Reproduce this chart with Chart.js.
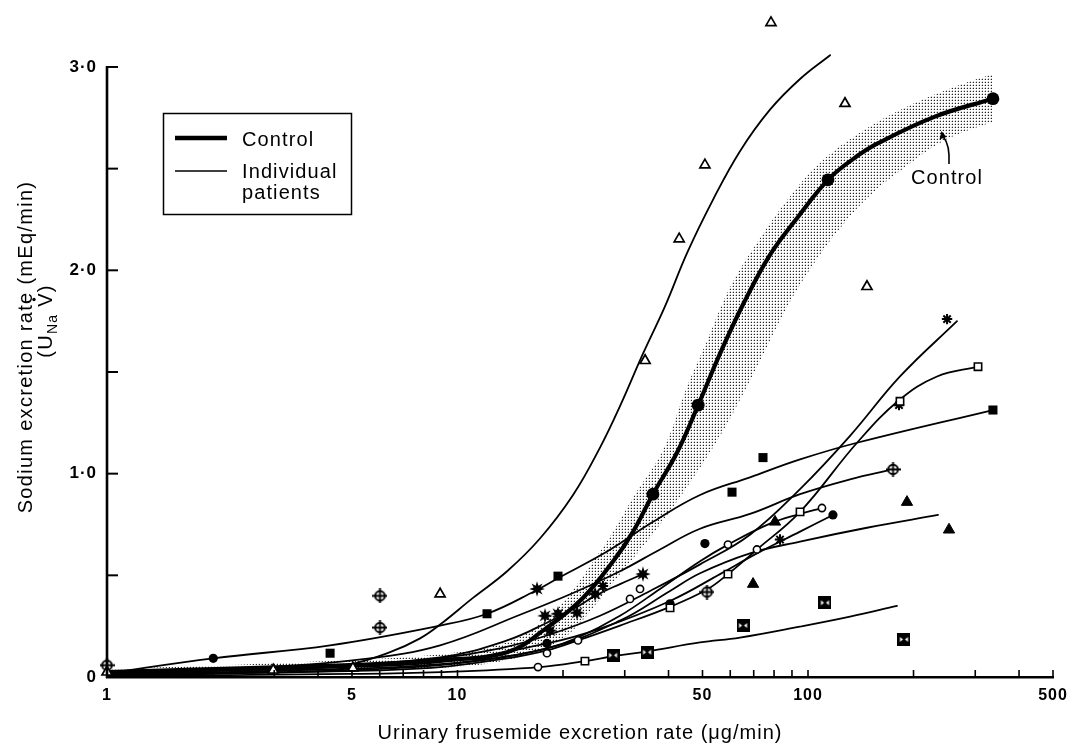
<!DOCTYPE html>
<html><head><meta charset="utf-8">
<script src="https://cdn.jsdelivr.net/npm/chart.js@4.4.0/dist/chart.umd.min.js"></script>
<style>html,body{margin:0;padding:0;background:#fff}#wrap{width:1085px;height:745px;position:relative}</style>
</head><body><div id="wrap"><canvas id="c" width="1085" height="745"></canvas></div>
<script>
// ---------- data (x: urinary frusemide µg/min, y: UNaV mEq/min) ----------
const xTickLabels = [1, 5, 10, 50, 100, 500];
const xMinorTicks = [1,2,3,4,5,6,7,8,9,10,20,30,40,50,60,70,80,90,100,200,300,400,500];
const yTicks = [0, 0.5, 1, 1.5, 2, 2.5, 3];
const xTitle = 'Urinary frusemide excretion rate (μg/min)';
const yTitleMain = 'Sodium excretion rate (mEq/min)';
const legendLabels = ['Control', 'Individual', 'patients'];
const annotationLabel = 'Control';

const controlCurve = [[1,0.024],[2.56,0.044],[4.94,0.058],[8.92,0.083],[13.85,0.122],[18.0,0.243],[22.8,0.389],[27.8,0.569],[31.7,0.715],[36.1,0.899],[42.3,1.104],[48.6,1.337],[56.1,1.590],[65.3,1.833],[77.9,2.076],[93.0,2.256],[114,2.445],[134.4,2.547],[158.4,2.625],[230.3,2.756],[337,2.844]];
const controlPoints = [[36.1,0.899],[48.6,1.337],[114,2.445],[337,2.844]];
const controlBandUpper = [[1,0.039],[2.56,0.063],[4.94,0.083],[8.92,0.112],[13.2,0.160],[16.1,0.228],[19.6,0.350],[24.4,0.569],[27.8,0.715],[32.1,0.899],[38.6,1.118],[45.2,1.429],[51.5,1.653],[59.9,1.915],[73.0,2.159],[90.6,2.382],[108.2,2.528],[131.8,2.645],[179.4,2.781],[260.9,2.902],[337,2.966]];
const controlBandLower = [[1,0.010],[2.56,0.019],[4.94,0.034],[8.92,0.044],[13.85,0.083],[19.2,0.170],[22.4,0.267],[25.0,0.365],[29.1,0.506],[34.7,0.666],[41.2,0.836],[46.1,0.958],[52.5,1.104],[61.1,1.298],[73.0,1.556],[87.1,1.818],[103.4,2.027],[123.4,2.207],[150.3,2.368],[183,2.489],[242.8,2.635],[337,2.732]];

const triOpenLine = [[1,0.005],[2.56,0.024],[3.55,0.039],[4.94,0.063],[6.42,0.122],[7.82,0.190],[8.92,0.258],[11.07,0.389],[13.85,0.520],[17.19,0.681],[21.36,0.895],[25.5,1.128],[29.08,1.332],[33.82,1.590],[39.08,1.823],[45.2,2.086],[53.6,2.348],[63.97,2.586],[77.9,2.790],[94.9,2.941],[115.6,3.058]];
const triOpenPts = [[1,0.024],[2.98,0.034],[5.03,0.044],[8.92,0.408],[34.3,1.556],[42.9,2.154],[50.8,2.518],[78.4,3.218],[127.5,2.820],[147.3,1.920]];

const sqFilledLine = [[1,0.019],[2.01,0.092],[4.33,0.156],[8.92,0.253],[12.14,0.311],[16.64,0.423],[19.35,0.486],[26.71,0.617],[36.13,0.763],[49.2,0.895],[68.3,0.982],[94.9,1.070],[138,1.152],[337,1.313]];
const sqFilledPts = [[4.33,0.117],[12.14,0.311],[19.35,0.496],[60.7,0.909],[74.4,1.079],[337,1.313]];

const crossLine = [[1,0.024],[2.56,0.044],[5.38,0.088],[8.92,0.156],[15.08,0.306],[21.36,0.413],[29.08,0.520],[37.82,0.627],[49.2,0.729],[68.3,0.802],[94.9,0.899],[131.8,0.972],[174.8,1.021]];
const crossPts = [[1,0.058],[6.01,0.399],[6.01,0.243],[51.5,0.418],[174.8,1.021]];

const starLine = [[1,0.015],[2.56,0.034],[4.94,0.053],[8.92,0.092],[13.22,0.141],[18.0,0.204],[25.5,0.301],[35.42,0.423],[49.2,0.554],[68.3,0.700],[94.9,0.924],[131.8,1.186],[183,1.478],[266.1,1.750]];
const starPts = [[249.3,1.760],[181.8,1.337],[83.2,0.676],[26.0,0.447]];

const sqOpenLine = [[1,0.010],[4.94,0.029],[8.92,0.049],[13.85,0.092],[18.0,0.131],[22.07,0.180],[29.08,0.253],[40.4,0.345],[51.5,0.430],[59.1,0.506],[71.5,0.627],[94.9,0.812],[138,1.152],[181.8,1.361],[233.4,1.478],[305.5,1.526]];
const sqOpenPts = [[23.1,0.078],[40.4,0.340],[59.1,0.506],[94.9,0.812],[183,1.356],[305.5,1.526]];

const circOpenLine = [[1,0.005],[4.94,0.034],[8.92,0.058],[13.85,0.102],[18.0,0.141],[22.07,0.194],[29.08,0.301],[37.82,0.433],[49.2,0.569],[59.1,0.651],[77.9,0.754],[94.9,0.802],[109.6,0.831]];
const circOpenPts = [[16.97,0.049],[18.0,0.117],[22.07,0.180],[31.06,0.384],[33.17,0.433],[59.1,0.651],[71.5,0.627],[109.6,0.831]];

const circFilledLine = [[1,0.019],[3.55,0.044],[8.92,0.073],[18.0,0.165],[25.5,0.238],[40.4,0.374],[56.1,0.506],[71.5,0.608],[94.9,0.715],[117.8,0.797]];
const circFilledPts = [[2.01,0.092],[18.0,0.165],[40.4,0.360],[50.8,0.656],[117.8,0.797]];

const triFilledLine = [[1,0.010],[3.55,0.034],[8.92,0.063],[18.0,0.141],[29.08,0.277],[40.4,0.423],[49.2,0.510],[68.3,0.608],[94.9,0.666],[147.3,0.734],[234.9,0.797]];
const triFilledPts = [[69.7,0.457],[80.5,0.763],[191.6,0.860],[252.5,0.724]];

const boxLine = [[1,0.005],[4.94,0.015],[8.92,0.024],[17.19,0.049],[23.11,0.078],[27.78,0.102],[34.73,0.126],[49.2,0.170],[63.97,0.194],[94.9,0.248],[131.8,0.297],[179.4,0.350]];
const boxPts = [[27.78,0.107],[34.73,0.122],[65.25,0.253],[111.8,0.365],[187.8,0.185]];

const burstLine = [[1,0.015],[3.55,0.049],[8.92,0.097],[13.85,0.180],[18.0,0.267],[21.93,0.345],[24.69,0.399],[29.08,0.457],[33.82,0.506]];
const burstPts = [[16.86,0.433],[17.77,0.301],[18.36,0.228],[19.35,0.311],[21.93,0.316],[24.69,0.408],[33.82,0.506]];

// ---------- styling helpers ----------
const FONT = '"Liberation Sans", Arial, Helvetica, sans-serif';
const canvasEl = document.getElementById('c');
const mainCtx = canvasEl.getContext('2d');
function mk(w, h, draw) { const c = document.createElement('canvas'); c.width = w; c.height = h; draw(c.getContext('2d')); return c; }
const dotTile = mk(3, 3, g => { g.fillStyle = 'rgba(0,0,0,0.85)'; g.fillRect(1,1,1,1); g.fillStyle = 'rgba(0,0,0,0.22)'; g.fillRect(0,1,1,1); g.fillRect(1,0,1,1); });
const stipple = mainCtx.createPattern(dotTile, 'repeat');
const crossCircle = mk(15, 15, g => { g.fillStyle = '#fff'; g.beginPath(); g.arc(7.5,7.5,4.8,0,2*Math.PI); g.fill(); g.strokeStyle = '#000'; g.lineWidth = 1.9; g.stroke(); g.beginPath(); g.moveTo(0,7.5); g.lineTo(15,7.5); g.moveTo(7.5,0); g.lineTo(7.5,15); g.stroke(); });
const boxMark = mk(13, 13, g => { g.fillStyle = '#000'; g.fillRect(0,0,13,13); g.fillStyle = '#fff'; g.beginPath(); g.moveTo(2.5,4); g.lineTo(5.5,6.5); g.lineTo(2.5,9); g.closePath(); g.moveTo(10.5,4); g.lineTo(7.5,6.5); g.lineTo(10.5,9); g.closePath(); g.fill(); });
const burstMark = mk(16, 16, g => { g.fillStyle = '#000'; g.beginPath(); for (let i = 0; i < 16; i++) { const a = i*Math.PI/8 - Math.PI/2; const r = i % 2 ? 3.6 : 7.8; g.lineTo(8 + r*Math.cos(a), 8 + r*Math.sin(a)); } g.closePath(); g.fill(); });

const P = a => a.map(([x, y]) => ({x, y}));
function lineDs(data, w) {
  return {data: P(data), showLine: true, borderColor: '#000', borderWidth: w, pointRadius: 0, pointHoverRadius: 0,
    tension: 0.4, fill: false, clip: false, borderCapStyle: 'round', borderJoinStyle: 'round'};
}
function ptDs(data, style, r, bg, bw) {
  return {data: P(data), showLine: false, pointStyle: style, pointRadius: r, pointHoverRadius: r,
    pointBackgroundColor: bg, pointBorderColor: '#000', pointBorderWidth: bw, clip: false};
}

const datasets = [
  // markers (drawn on top)
  ptDs(controlPoints, 'circle', 6.4, '#000', 0),
  ptDs(triOpenPts, 'triangle', 5.8, '#fff', 1.7),
  ptDs(triFilledPts, 'triangle', 6.5, '#000', 1),
  ptDs(sqFilledPts, 'rect', 6.4, '#000', 0),
  ptDs(sqOpenPts, 'rect', 5.2, '#fff', 1.6),
  ptDs(circOpenPts, 'circle', 3.6, '#fff', 1.6),
  ptDs(circFilledPts, 'circle', 4.6, '#000', 0),
  ptDs(starPts, 'star', 5.2, '#000', 2),
  ptDs(crossPts, crossCircle, 6, '#000', 0),
  ptDs(boxPts, boxMark, 6, '#000', 0),
  ptDs(burstPts, burstMark, 6, '#000', 0),
  // curves
  lineDs(controlCurve, 4.2),
  lineDs(triOpenLine, 1.8),
  lineDs(sqFilledLine, 1.8),
  lineDs(crossLine, 1.8),
  lineDs(starLine, 1.8),
  lineDs(sqOpenLine, 1.8),
  lineDs(circOpenLine, 1.8),
  lineDs(circFilledLine, 1.8),
  lineDs(triFilledLine, 1.8),
  lineDs(boxLine, 1.8),
  lineDs(burstLine, 1.8),
];
// control band (stippled), upper edge fills to lower edge
const bandUpper = lineDs(controlBandUpper, 0); bandUpper.fill = '+1'; bandUpper.backgroundColor = stipple; bandUpper.borderColor = 'rgba(0,0,0,0)';
const bandLower = lineDs(controlBandLower, 0); bandLower.borderColor = 'rgba(0,0,0,0)';
datasets.push(bandUpper, bandLower);

const decor = {
  id: 'decor',
  beforeDraw(chart) { chart.ctx.letterSpacing = '1px'; },
  afterDraw(chart) {
    const {ctx, chartArea: a} = chart;
    const xs = chart.scales.x, ys = chart.scales.y;
    ctx.save();
    ctx.strokeStyle = '#000'; ctx.fillStyle = '#000'; ctx.lineCap = 'butt';
    // y axis line 0 .. 3.0
    const y0 = ys.getPixelForValue(0), y3 = ys.getPixelForValue(3);
    ctx.lineWidth = 2.6; ctx.beginPath(); ctx.moveTo(a.left, y0 + 1); ctx.lineTo(a.left, y3 - 1); ctx.stroke();
    ctx.lineWidth = 2;
    ys.ticks.forEach(t => { const p = ys.getPixelForValue(t.value); ctx.beginPath(); ctx.moveTo(a.left, p); ctx.lineTo(a.left + 11, p); ctx.stroke(); });
    ctx.lineWidth = 1.6;
    xs.ticks.forEach(t => { const p = xs.getPixelForValue(t.value); ctx.beginPath(); ctx.moveTo(p, a.bottom); ctx.lineTo(p, a.bottom - 7); ctx.stroke(); });

    // y-axis title
    ctx.letterSpacing = '1.3px';
    ctx.font = '20px ' + FONT;
    ctx.textAlign = 'center'; ctx.textBaseline = 'middle';
    ctx.save(); ctx.translate(26, 347); ctx.rotate(-Math.PI/2); ctx.fillText(yTitleMain, 0, 0); ctx.restore();
    ctx.save(); ctx.translate(45, 321); ctx.rotate(-Math.PI/2);
    ctx.textAlign = 'left'; ctx.textBaseline = 'alphabetic';
    const f20 = '20px ' + FONT, f14 = '14px ' + FONT;
    ctx.font = f20; const w1 = ctx.measureText('(U').width; const wsp = ctx.measureText(' ').width; const wV = ctx.measureText('V').width; const w4 = ctx.measureText(')').width;
    ctx.font = f14; const w2 = ctx.measureText('Na').width;
    let cx = -(w1 + w2 + wsp + wV + w4) / 2;
    ctx.font = f20; ctx.fillText('(U', cx, 7); cx += w1;
    ctx.font = f14; ctx.fillText('Na', cx, 12); cx += w2;
    ctx.font = f20; ctx.fillText(' V', cx, 7); const vx = cx + wsp + wV/2; cx += wsp + wV;
    ctx.fillText(')', cx, 7);
    ctx.beginPath(); ctx.arc(vx, -11, 1.7, 0, 2*Math.PI); ctx.fill();
    ctx.restore();

    // legend box
    ctx.lineWidth = 1.5; ctx.strokeRect(163.5, 113.5, 188, 101);
    ctx.lineWidth = 4.5; ctx.beginPath(); ctx.moveTo(175, 138); ctx.lineTo(227, 138); ctx.stroke();
    ctx.lineWidth = 1.3; ctx.beginPath(); ctx.moveTo(175, 171); ctx.lineTo(227, 171); ctx.stroke();
    ctx.font = '20px ' + FONT; ctx.textAlign = 'left'; ctx.textBaseline = 'middle'; ctx.letterSpacing = '1.1px';
    ctx.fillText(legendLabels[0], 242, 140);
    ctx.fillText(legendLabels[1], 242, 172);
    ctx.fillText(legendLabels[2], 242, 193);

    // "Control" annotation with arrow
    ctx.textAlign = 'center';
    ctx.fillText(annotationLabel, 947, 178);
    ctx.lineWidth = 1.6; ctx.beginPath(); ctx.moveTo(949, 164); ctx.quadraticCurveTo(950, 145, 943.5, 137); ctx.stroke();
    ctx.beginPath(); ctx.moveTo(941.5, 131); ctx.lineTo(939.5, 139.5); ctx.lineTo(946.5, 137); ctx.closePath(); ctx.fill();
    ctx.restore();
  }
};

new Chart(canvasEl, {
  type: 'scatter',
  data: {datasets},
  options: {
    responsive: false, animation: false, events: [],
    layout: {padding: {top: 12, right: 32, left: 0, bottom: 0}},
    plugins: {legend: {display: false}, tooltip: {enabled: false}},
    scales: {
      x: {
        type: 'logarithmic', min: 1, max: 500, position: 'bottom',
        afterBuildTicks: s => { s.ticks = xMinorTicks.map(v => ({value: v})); },
        afterFit: s => { s.height = 68; },
        grid: {display: false, drawTicks: false},
        border: {display: true, color: '#000', width: 2.6},
        ticks: {autoSkip: false, maxRotation: 0, padding: 9, color: '#000',
          font: {family: FONT, size: 16, weight: 'bold'},
          callback: v => xTickLabels.includes(v) ? String(v) : ''},
        title: {display: true, text: xTitle, color: '#000', font: {family: FONT, size: 20}, padding: {top: 0, bottom: 0}}
      },
      y: {
        type: 'linear', min: 0, max: 3.23, position: 'left',
        afterBuildTicks: s => { s.ticks = yTicks.map(v => ({value: v})); },
        afterFit: s => { s.width = 107; },
        grid: {display: false, drawTicks: false},
        border: {display: false},
        ticks: {autoSkip: false, padding: 10, color: '#000',
          font: {family: FONT, size: 17, weight: 'bold'},
          callback: v => v === 0 ? '0' : (Number.isInteger(v) ? v.toFixed(1).replace('.', '·') : '')}
      }
    }
  },
  plugins: [decor]
});
</script>
</body></html>
